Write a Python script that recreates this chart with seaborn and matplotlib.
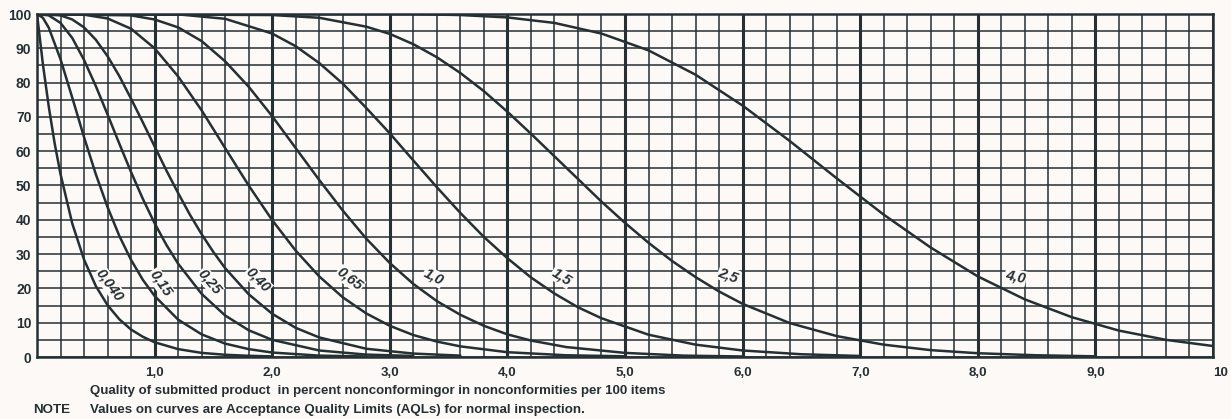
import matplotlib
matplotlib.use("Agg")
import matplotlib.pyplot as plt
import pandas as pd
import seaborn as sns
from matplotlib.ticker import MultipleLocator, FixedLocator

# Operating characteristic curves: probability of acceptance (%) against
# quality of submitted product (% nonconforming), one curve per AQL.
aql_labels = ["0,040", "0,15", "0,25", "0,40", "0,65", "1,0", "1,5", "2,5", "4,0"]

p_0040 = [0, 0.05, 0.1, 0.15, 0.2, 0.3, 0.4, 0.5, 0.6, 0.7, 0.8, 0.9, 1.0, 1.2, 1.4, 1.6, 1.8, 2.0]
pa_0040 = [100, 85.4, 73.0, 62.3, 53.3, 38.9, 28.4, 20.7, 15.1, 11.0, 8.0, 5.9, 4.3, 2.3, 1.2, 0.65, 0.35, 0.18]

p_015 = [0, 0.05, 0.1, 0.2, 0.3, 0.4, 0.5, 0.6, 0.7, 0.8, 0.9, 1.0, 1.2, 1.4, 1.6, 1.8, 2.0, 2.4, 2.8]
pa_015 = [100, 98.9, 96.0, 86.8, 75.6, 64.1, 53.3, 43.7, 35.3, 28.3, 22.5, 17.8, 10.9, 6.6, 3.9, 2.3, 1.3, 0.4, 0.15]

p_025 = [0, 0.1, 0.2, 0.3, 0.4, 0.5, 0.6, 0.7, 0.8, 0.9, 1.0, 1.1, 1.2, 1.4, 1.6, 1.8, 2.0, 2.4, 2.8, 3.2]
pa_025 = [100, 99.6, 97.4, 93.0, 86.6, 79.0, 70.7, 62.2, 53.9, 46.1, 39.0, 32.7, 27.2, 18.4, 12.1, 7.8, 5.0, 1.9, 0.7, 0.3]

p_040 = [0, 0.2, 0.3, 0.4, 0.5, 0.6, 0.7, 0.8, 0.9, 1.0, 1.1, 1.2, 1.3, 1.4, 1.5, 1.6, 1.8, 2.0, 2.2, 2.4, 2.8, 3.2, 3.6]
pa_040 = [100, 99.6, 98.4, 96.1, 92.5, 87.7, 81.9, 75.3, 68.4, 61.4, 54.4, 47.8, 41.5, 35.8, 30.6, 25.9, 18.3, 12.6, 8.5, 5.7, 2.4, 1.0, 0.4]

p_065 = [0, 0.4, 0.6, 0.8, 1.0, 1.2, 1.4, 1.6, 1.8, 2.0, 2.2, 2.4, 2.6, 2.8, 3.0, 3.2, 3.4, 3.6, 4.0, 4.5, 5.0]
pa_065 = [100, 99.8, 98.7, 95.7, 90.0, 81.8, 71.9, 60.9, 50.0, 39.9, 31.0, 23.5, 17.4, 12.7, 9.1, 6.4, 4.5, 3.1, 1.4, 0.5, 0.2]

p_10 = [0, 0.8, 1.0, 1.2, 1.4, 1.6, 1.8, 2.0, 2.2, 2.4, 2.6, 2.8, 3.0, 3.2, 3.4, 3.6, 3.8, 4.0, 4.2, 4.5, 5.0, 5.5, 6.0]
pa_10 = [100, 99.6, 98.4, 96.1, 92.1, 86.2, 78.8, 70.2, 60.9, 51.6, 42.7, 34.5, 27.4, 21.3, 16.3, 12.3, 9.1, 6.6, 4.8, 2.9, 1.2, 0.4, 0.15]

p_15 = [0, 1.2, 1.6, 2.0, 2.2, 2.4, 2.6, 2.8, 3.0, 3.2, 3.4, 3.6, 3.8, 4.0, 4.2, 4.4, 4.6, 4.8, 5.2, 5.6, 6.0, 6.5, 7.0]
pa_15 = [100, 99.9, 98.6, 94.3, 90.6, 85.7, 79.7, 72.6, 65.2, 57.3, 49.5, 42.0, 35.0, 28.8, 23.2, 18.5, 14.5, 11.3, 6.5, 3.6, 1.9, 0.8, 0.3]

p_25 = [0, 2.0, 2.4, 2.8, 3.0, 3.2, 3.4, 3.6, 3.8, 4.0, 4.2, 4.4, 4.6, 4.8, 5.0, 5.2, 5.4, 5.6, 5.8, 6.0, 6.4, 6.8, 7.2, 7.6, 8.0, 8.5, 9.0]
pa_25 = [100, 99.7, 98.9, 96.3, 94.2, 91.2, 87.4, 82.8, 77.5, 71.5, 65.1, 58.5, 51.9, 45.3, 39.1, 33.3, 28.0, 23.3, 19.1, 15.5, 9.9, 6.1, 3.6, 2.0, 1.1, 0.5, 0.2]

p_40 = [0, 3.2, 3.6, 4.0, 4.4, 4.8, 5.2, 5.6, 6.0, 6.4, 6.8, 7.2, 7.6, 8.0, 8.4, 8.8, 9.2, 9.6, 10.0]
pa_40 = [100, 99.95, 99.7, 99.0, 97.4, 94.3, 89.4, 82.3, 73.3, 63.0, 52.1, 41.5, 31.9, 23.5, 16.8, 11.6, 7.7, 5.0, 3.2]

x_tick_values = [1, 2, 3, 4, 5, 6, 7, 8, 9, 10]
x_tick_labels = ["1,0", "2,0", "3,0", "4,0", "5,0", "6,0", "7,0", "8,0", "9,0", "10"]
y_tick_values = [0, 10, 20, 30, 40, 50, 60, 70, 80, 90, 100]

x_title = "Quality of submitted product  in percent nonconformingor in nonconformities per 100 items"
note_head = "NOTE"
note_text = "Values on curves are Acceptance Quality Limits (AQLs) for normal inspection."

series = [p_0040, p_015, p_025, p_040, p_065, p_10, p_15, p_25, p_40]
values = [pa_0040, pa_015, pa_025, pa_040, pa_065, pa_10, pa_15, pa_25, pa_40]
df = pd.concat(
    [pd.DataFrame({"p": xs, "pa": ys, "aql": lab}) for lab, xs, ys in zip(aql_labels, series, values)],
    ignore_index=True,
)

# label placement (data coords) and tilt for each curve tag
label_pos = [(0.62, 21.0), (1.05, 21.6), (1.47, 21.9), (1.88, 22.4), (2.66, 22.7),
             (3.37, 23.3), (4.46, 23.3), (5.88, 23.9), (8.32, 23.3)]
label_rot = [-54, -56, -50, -46, -38, -27, -32, -20, -12]

sns.set_theme(style="white")
plt.rcParams["font.family"] = ["Liberation Sans", "DejaVu Sans"]

ink = "#243034"
paper = "#fdf9f7"

fig = plt.figure(figsize=(12.31, 4.19), dpi=100, facecolor=paper)
ax = fig.add_axes([37 / 1231, 1 - 357 / 419, 1176 / 1231, 343 / 419])
ax.set_facecolor(paper)

sns.lineplot(data=df, x="p", y="pa", units="aql", estimator=None, sort=False,
             color=ink, linewidth=1.8, ax=ax, legend=False, zorder=3)

ax.set_xlim(0, 10)
ax.set_ylim(0, 100)
ax.xaxis.set_major_locator(FixedLocator(x_tick_values))
ax.xaxis.set_minor_locator(MultipleLocator(0.2))
ax.yaxis.set_major_locator(FixedLocator(y_tick_values))
ax.yaxis.set_minor_locator(MultipleLocator(5))
ax.set_xticklabels(x_tick_labels)
ax.set_yticklabels([str(v) for v in y_tick_values])

ax.grid(which="major", axis="x", color=ink, linewidth=2.2)
ax.grid(which="minor", axis="x", color=ink, linewidth=1.1)
ax.grid(which="both", axis="y", color=ink, linewidth=1.1)
ax.set_axisbelow(True)

for s in ax.spines.values():
    s.set_visible(True)
    s.set_color(ink)
    s.set_linewidth(1.8)

ax.tick_params(which="both", length=0)
ax.tick_params(axis="x", pad=7, labelsize=9.6, labelcolor=ink)
ax.tick_params(axis="y", pad=4, labelsize=10, labelcolor=ink)
for t in ax.get_xticklabels() + ax.get_yticklabels():
    t.set_fontweight("bold")
ax.get_xticklabels()[-1].set_horizontalalignment("left")
ax.set_xlabel("")
ax.set_ylabel("")

for lab, (lx, ly), rot in zip(aql_labels, label_pos, label_rot):
    ax.text(lx, ly, lab, rotation=rot, rotation_mode="anchor", ha="center", va="center",
            fontsize=10.5, style="italic", fontweight="bold", color=ink, zorder=4,
            bbox=dict(boxstyle="square,pad=0.05", facecolor=paper, edgecolor="none"))

fig.text(90 / 1231, 1 - 391 / 419, x_title, ha="left", va="center",
         fontsize=9.5, fontweight="bold", color=ink)
fig.text(33 / 1231, 1 - 410 / 419, note_head, ha="left", va="center",
         fontsize=9.6, fontweight="bold", color=ink)
fig.text(90 / 1231, 1 - 410 / 419, note_text, ha="left", va="center",
         fontsize=9.6, fontweight="bold", color=ink)

fig.savefig("out.png", dpi=100, facecolor=paper)
